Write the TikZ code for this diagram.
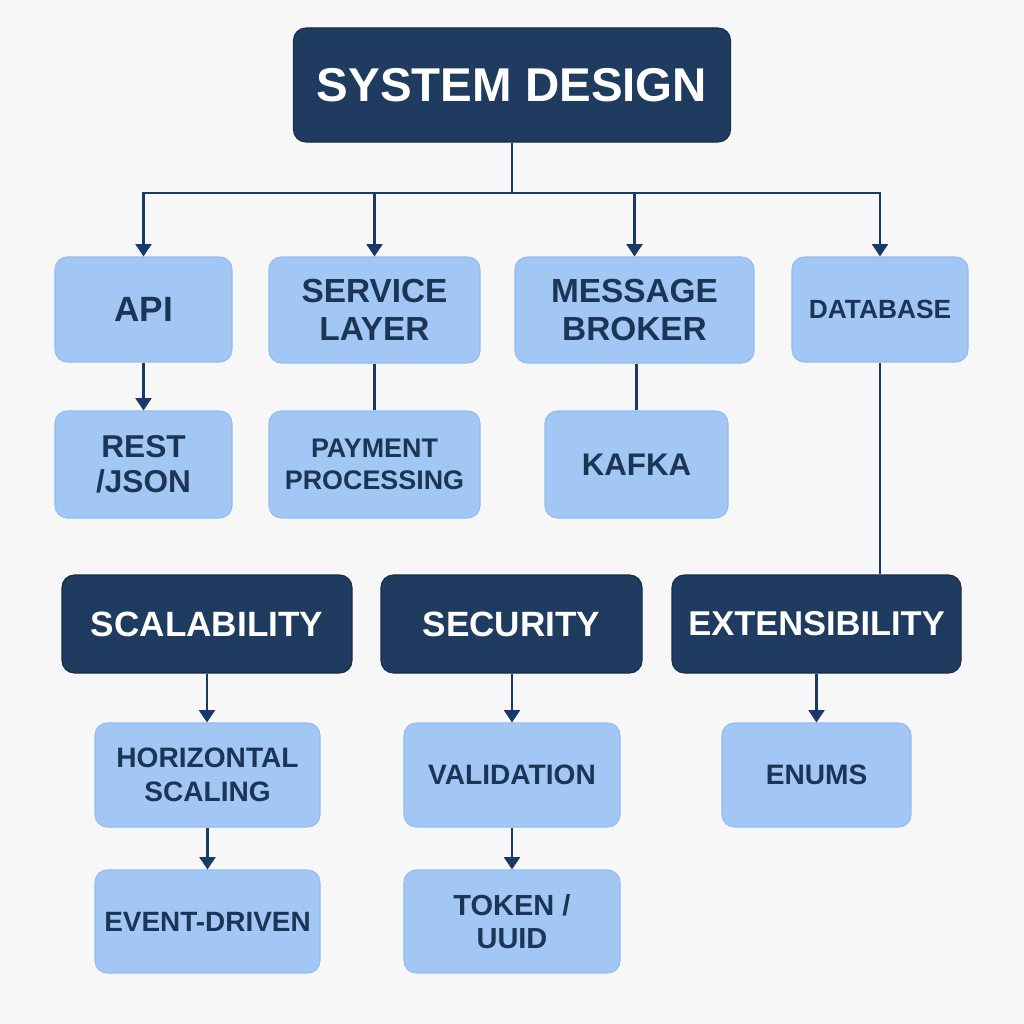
\documentclass[tikz,border=0pt]{standalone}
\usepackage{fontspec}
\setmainfont{Liberation Sans}
\usetikzlibrary{arrows.meta}

\definecolor{navy}{HTML}{1F3B5F}
\definecolor{navyline}{HTML}{1A3868}
\definecolor{paleblue}{HTML}{A3C7F4}
\definecolor{paleedge}{HTML}{94BCEE}
\definecolor{inktext}{HTML}{1B3556}
\definecolor{backgr}{HTML}{F7F7F7}

\tikzset{
	boxsize/.style 2 args={minimum width=#1*0.02cm, minimum height=#2*0.02cm},
	darkbox/.style={draw=navy!75!black, line width=0.6pt, fill=navy, text=white,
		rounded corners=7pt, align=center, inner sep=0pt,
		font=\bfseries\fontsize{20}{23}\selectfont},
	lightbox/.style={draw=paleedge, line width=0.6pt, fill=paleblue, text=inktext,
		rounded corners=7pt, align=center, inner sep=0pt},
	link/.style={draw=navyline, line width=1.4pt},
	linkarrow/.style={link, -{Triangle[width=9pt,length=7pt]}},
}

\begin{document}
\begin{tikzpicture}[x=0.02cm, y=-0.02cm]

		\fill[backgr] (0,0) rectangle (1024,1024);
		\useasboundingbox (0,0) rectangle (1024,1024);

		% titolo
		\node[darkbox, boxsize={437}{114}, font=\bfseries\fontsize{27}{30}\selectfont] (title) at (512,85) {SYSTEM DESIGN};
		\coordinate (bus) at (512,193);

		% prima riga
		\node[lightbox, boxsize={177}{105}, font=\bfseries\fontsize{20}{22}\selectfont] (api) at (143.5,309.5) {API};
		\node[lightbox, boxsize={211}{106}, font=\bfseries\fontsize{19}{22}\selectfont] (service) at (374.5,310) {SERVICE\\LAYER};
		\node[lightbox, boxsize={239}{106}, font=\bfseries\fontsize{19}{22}\selectfont] (broker) at (634.5,310) {MESSAGE\\BROKER};
		\node[lightbox, boxsize={176}{105}, font=\bfseries\fontsize{15}{18}\selectfont] (database) at (880,309.5) {DATABASE};

		% seconda riga
		\node[lightbox, boxsize={177}{107}, font=\bfseries\fontsize{18}{20}\selectfont] (rest) at (143.5,464.5) {REST\\/JSON};
		\node[lightbox, boxsize={211}{107}, font=\bfseries\fontsize{15.3}{18.5}\selectfont] (payment) at (374.5,464.5) {PAYMENT\\PROCESSING};
		\node[lightbox, boxsize={183}{107}, font=\bfseries\fontsize{17.8}{20}\selectfont] (kafka) at (636.5,464.5) {KAFKA};

		% categorie
		\node[darkbox, boxsize={290}{98}] (scal) at (207,624) {SCALABILITY};
		\node[darkbox, boxsize={261}{98}] (sec) at (511.5,624) {SECURITY};
		\node[darkbox, boxsize={289}{98}, font=\bfseries\fontsize{19.6}{23}\selectfont] (ext) at (816.5,624) {EXTENSIBILITY};

		% dettagli
		\node[lightbox, boxsize={225}{104}, font=\bfseries\fontsize{16}{19.7}\selectfont] (horiz) at (207.5,775) {HORIZONTAL\\SCALING};
		\node[lightbox, boxsize={216}{104}, font=\bfseries\fontsize{16}{19}\selectfont] (valid) at (512,775) {VALIDATION};
		\node[lightbox, boxsize={189}{104}, font=\bfseries\fontsize{16}{19}\selectfont] (enums) at (816.5,775) {ENUMS};
		\node[lightbox, boxsize={225}{103}, font=\bfseries\fontsize{15.9}{19}\selectfont] (event) at (207.5,921.5) {EVENT-DRIVEN};
		\node[lightbox, boxsize={216}{103}, font=\bfseries\fontsize{16.5}{18.7}\selectfont] (token) at (512,921.5) {TOKEN /\\UUID};

		% collegamenti
		\draw[link] (title.south) -- (bus);
		\foreach \child in {api, service, broker, database}
			\draw[linkarrow] (bus) -| (\child.north);

		\draw[linkarrow] (api) -- (rest);
		\draw[link] (service) -- (payment);
		\draw[link] (broker.south -| kafka.north) -- (kafka.north);
		\draw[link] (database.south) -- (database.south |- ext.north);

		\draw[linkarrow] (scal) -- (scal.south |- horiz.north);
		\draw[linkarrow] (sec.south -| valid.north) -- (valid.north);
		\draw[linkarrow] (ext) -- (enums);
		\draw[linkarrow] (horiz.south) -- (horiz.south |- event.north);
		\draw[linkarrow] (valid) -- (token);

	\end{tikzpicture}
\end{document}
